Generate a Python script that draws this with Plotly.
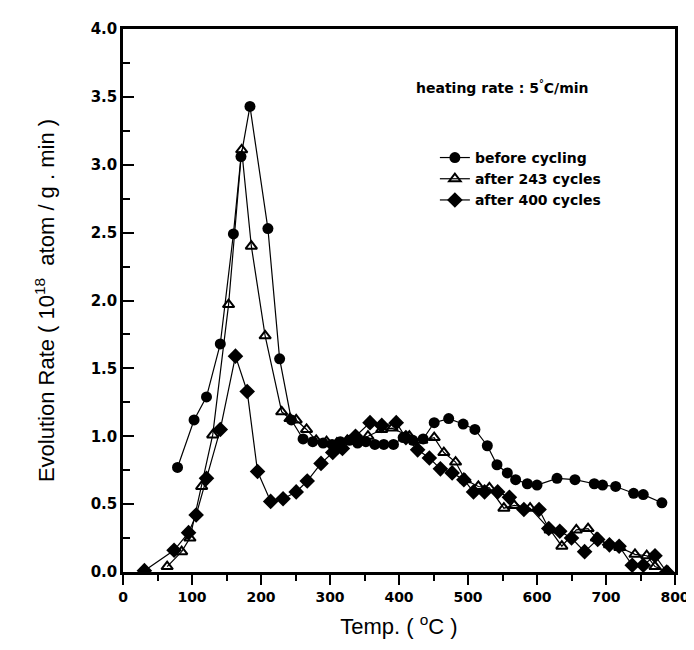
import plotly.graph_objects as go

# before cycling (filled circles)
t_before = [79, 103, 121, 141, 160, 171, 184, 210, 227, 244, 261, 275, 290, 303, 315, 328, 340, 352,
            365, 378, 392, 406, 420, 435, 451, 472, 493, 510, 528, 542, 557, 569, 586, 600, 629,
            655, 683, 695, 714, 740, 754, 781]
v_before = [0.77, 1.12, 1.29, 1.68, 2.49, 3.06, 3.43, 2.53, 1.57, 1.12, 0.98, 0.96, 0.95, 0.94, 0.96,
            0.97, 0.95, 0.96, 0.94, 0.94, 0.94, 0.99, 0.97, 0.98, 1.10, 1.13, 1.09, 1.05, 0.93, 0.79,
            0.73, 0.68, 0.65, 0.64, 0.69, 0.68, 0.65, 0.64, 0.63, 0.58, 0.57, 0.51]

# after 243 cycles (open triangles)
t_243 = [64, 85, 97, 114, 130, 153, 172, 186, 206, 230, 242, 251, 266, 280, 295, 310, 325, 340, 355,
         375, 390, 415, 433, 451, 465, 482, 496, 515, 531, 552, 567, 590, 619, 636, 657, 674, 686,
         705, 720, 742, 759, 771, 790]
v_243 = [0.04, 0.15, 0.25, 0.63, 1.01, 1.97, 3.11, 2.40, 1.74, 1.18, 1.13, 1.12, 1.05, 0.97, 0.96,
         0.95, 0.97, 0.98, 1.00, 1.05, 1.06, 1.00, 0.97, 0.99, 0.88, 0.81, 0.68, 0.63, 0.62, 0.47,
         0.49, 0.47, 0.31, 0.19, 0.31, 0.32, 0.25, 0.20, 0.18, 0.13, 0.12, 0.04, 0.0]

# after 400 cycles (filled diamonds)
t_400 = [31, 74, 95, 106, 121, 141, 163, 180, 195, 214, 232, 251, 267, 287, 304, 318, 337, 358, 375,
         396, 410, 427, 444, 460, 477, 494, 508, 524, 543, 560, 581, 603, 617, 633, 650, 669, 688,
         705, 719, 738, 754, 771, 788]
v_400 = [0.01, 0.16, 0.29, 0.42, 0.69, 1.05, 1.59, 1.33, 0.74, 0.52, 0.54, 0.59, 0.67, 0.80, 0.88,
         0.91, 1.00, 1.10, 1.08, 1.10, 0.99, 0.90, 0.84, 0.76, 0.73, 0.68, 0.59, 0.59, 0.59, 0.55,
         0.46, 0.46, 0.32, 0.30, 0.25, 0.15, 0.24, 0.20, 0.19, 0.05, 0.05, 0.12, 0.0]

series_names = ["before cycling", "after 243 cycles", "after 400 cycles"]
y_ticks = [0.0, 0.5, 1.0, 1.5, 2.0, 2.5, 3.0, 3.5, 4.0]
x_ticks = [0, 100, 200, 300, 400, 500, 600, 700, 800]

BOLD = "DejaVu Sans, Liberation Sans, sans-serif"
REG = "Liberation Sans, Arial, sans-serif"

fig = go.Figure()
fig.add_trace(go.Scatter(x=t_before, y=v_before, mode="lines+markers", name=series_names[0],
                         line=dict(color="black", width=1.2),
                         marker=dict(symbol="circle", size=11, color="black")))
fig.add_trace(go.Scatter(x=t_243, y=v_243, mode="lines+markers", name=series_names[1],
                         line=dict(color="black", width=1.2),
                         marker=dict(symbol="triangle-up-open", size=10, color="black",
                                     line=dict(width=2, color="black"))))
fig.add_trace(go.Scatter(x=t_400, y=v_400, mode="lines+markers", name=series_names[2],
                         line=dict(color="black", width=1.2),
                         marker=dict(symbol="diamond", size=12, color="black")))

fig.add_annotation(text="heating rate : 5<sup>°</sup>C/min", xref="paper", yref="paper",
                   x=0.528, y=0.893, xanchor="left", yanchor="middle", showarrow=False,
                   font=dict(family=BOLD, size=14, color="black", weight="bold"))

fig.update_layout(
    width=694, height=650,
    margin=dict(l=115, r=15, t=20, b=86),
    paper_bgcolor="white", plot_bgcolor="white",
    font=dict(family=REG, color="black"),
    showlegend=True,
    legend=dict(x=0.565, y=0.792, xanchor="left", yanchor="top",
                bgcolor="rgba(0,0,0,0)", tracegroupgap=0, itemwidth=30,
                font=dict(family=BOLD, size=14, color="black", weight="bold")),
    xaxis=dict(range=[0, 800], tickvals=x_ticks, ticktext=[str(v) for v in x_ticks],
               ticks="outside", ticklen=10, tickwidth=2, tickcolor="black",
               minor=dict(dtick=50, ticks="outside", ticklen=6, tickwidth=1.5, tickcolor="black"),
               showline=True, linewidth=2.5, linecolor="black", mirror=True,
               showgrid=False, zeroline=False, ticklabeloverflow="allow",
               tickfont=dict(family=BOLD, size=14, color="black", weight="bold"),
               title=dict(text="Temp. ( <sup>o</sup>C )", standoff=16,
                          font=dict(family=REG, size=22, color="black"))),
    yaxis=dict(range=[0, 4.0], tickvals=y_ticks, ticktext=[f"{v:.1f}" for v in y_ticks],
               ticks="inside", ticklen=11, tickwidth=2, tickcolor="black",
               minor=dict(dtick=0.25, ticks="inside", ticklen=7, tickwidth=1.5, tickcolor="black"),
               showline=True, linewidth=2.5, linecolor="black", mirror=True,
               showgrid=False, zeroline=False,
               tickfont=dict(family=BOLD, size=15, color="black", weight="bold"),
               title=dict(text="Evolution Rate ( 10<sup>18</sup>  atom / g . min )", standoff=30,
                          font=dict(family=REG, size=22, color="black"))),
)

fig.write_html("out.html")
